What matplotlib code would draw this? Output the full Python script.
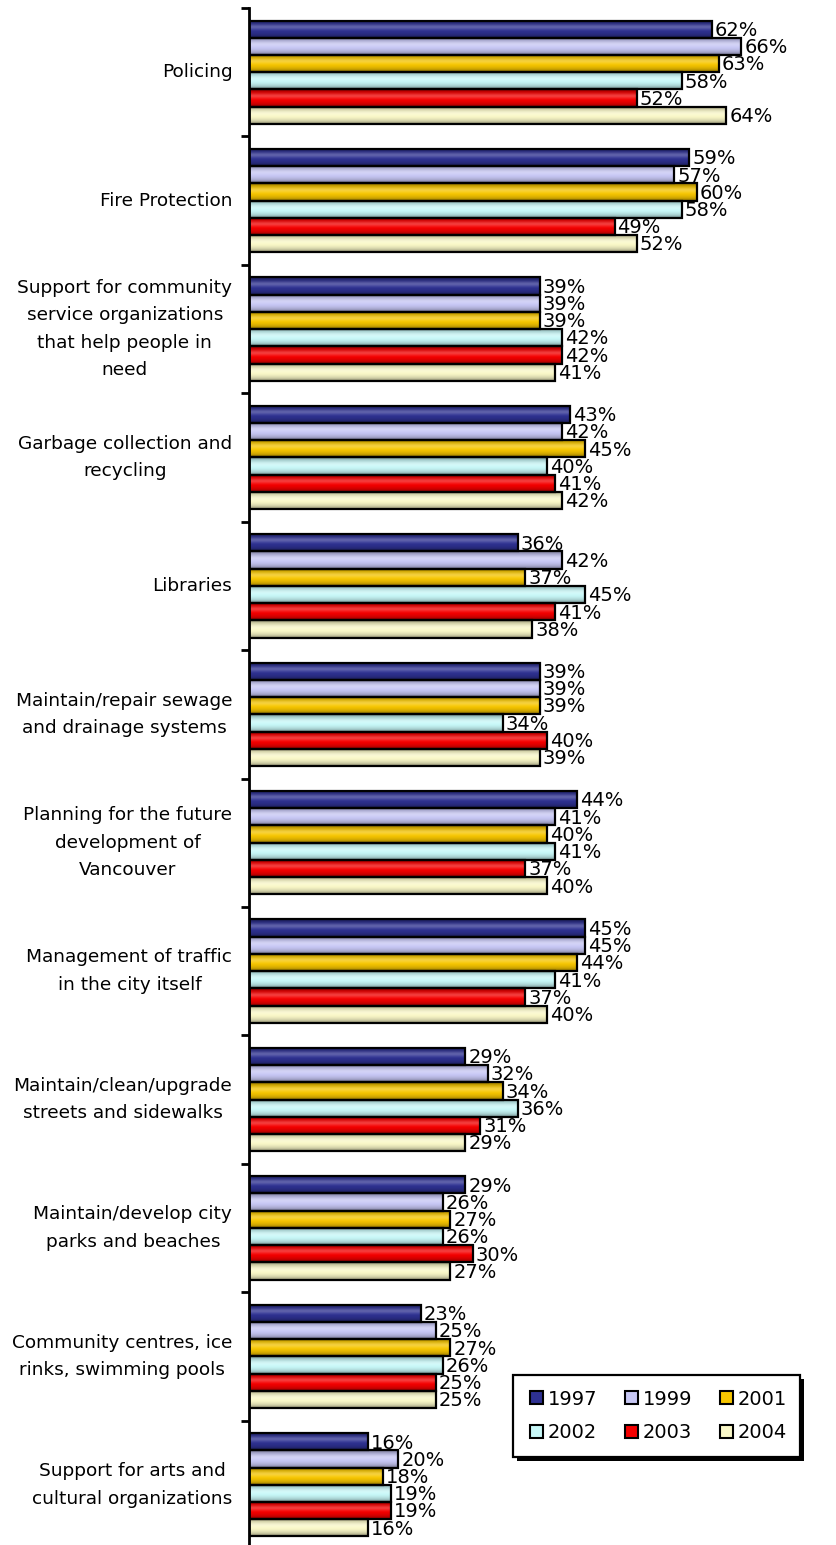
import numpy as np
import matplotlib
matplotlib.use("Agg")
import matplotlib.pyplot as plt
from matplotlib.patches import Patch, Rectangle

plt.rcParams['font.family'] = ['DejaVu Sans']

categories = [
    "Policing",
    "Fire Protection",
    "Support for community\nservice organizations\nthat help people in\nneed",
    "Garbage collection and\nrecycling",
    "Libraries",
    "Maintain/repair sewage\nand drainage systems",
    "Planning for the future\ndevelopment of\nVancouver",
    "Management of traffic\nin the city itself",
    "Maintain/clean/upgrade\nstreets and sidewalks",
    "Maintain/develop city\nparks and beaches",
    "Community centres, ice\nrinks, swimming pools",
    "Support for arts and\ncultural organizations",
]

years = ["1997", "1999", "2001", "2002", "2003", "2004"]

v1997 = [62, 59, 39, 43, 36, 39, 44, 45, 29, 29, 23, 16]
v1999 = [66, 57, 39, 42, 42, 39, 41, 45, 32, 26, 25, 20]
v2001 = [63, 60, 39, 45, 37, 39, 40, 44, 34, 27, 27, 18]
v2002 = [58, 58, 42, 40, 45, 34, 41, 41, 36, 26, 26, 19]
v2003 = [52, 49, 42, 41, 41, 40, 37, 37, 31, 30, 25, 19]
v2004 = [64, 52, 41, 42, 38, 39, 40, 40, 29, 27, 25, 16]

series = [v1997, v1999, v2001, v2002, v2003, v2004]
colors = ["#2E3192", "#C8C8F5", "#F7C600", "#C8F8F8", "#F50000", "#FAF8C8"]

W, H = 836, 1545
fig = plt.figure(figsize=(W / 100, H / 100), dpi=100)
ax_left, ax_top, ax_bottom = 249, 8, 1549
ax = fig.add_axes([ax_left / W, 1 - ax_bottom / H, (W - ax_left) / W, (ax_bottom - ax_top) / H])

n_cat = len(categories)
n_ser = len(series)
group = 0.805
h = group / n_ser
y_base = np.arange(n_cat)

# vertical shading profile for the cylinder-like bars
t = np.linspace(-1, 1, 32)
shade = np.zeros((32, 1, 4))
shade[:, 0, 3] = 0.42 * np.abs(t) ** 2.2
hi = np.ones((32, 1, 4))
hi[:, 0, 3] = np.exp(-((t + 0.25) / 0.3) ** 2) * 0.25

for j, (vals, col) in enumerate(zip(series, colors)):
    ys = y_base + (j - (n_ser - 1) / 2) * h
    bars = ax.barh(ys, vals, height=h, color=col, edgecolor="none", zorder=2)
    for rect, v, y in zip(bars, vals, ys):
        ext = [0, v, y + h / 2, y - h / 2]
        im2 = ax.imshow(hi, extent=ext, aspect="auto", interpolation="bilinear", zorder=2.4)
        im2.set_clip_path(rect)
        im = ax.imshow(shade, extent=ext, aspect="auto", interpolation="bilinear", zorder=2.5)
        im.set_clip_path(rect)
        ax.text(v + 0.4, y + 0.01, f"{v}%", va="center", ha="left", fontsize=14,
                color="black", zorder=4)
    ax.barh(ys, vals, height=h, fill=False, edgecolor="black", linewidth=1.6, zorder=3)

px_per_unit = 7.46
ax.set_xlim(0, (W - ax_left) / px_per_unit)
ax.set_ylim(n_cat - 0.5, -0.5)

for s in ["top", "right", "bottom"]:
    ax.spines[s].set_visible(False)
ax.spines["left"].set_linewidth(2)
ax.xaxis.set_visible(False)

ax.set_yticks(y_base)
ax.set_yticklabels(categories, fontsize=13.3, linespacing=1.68, ha="right",
                   va="center", multialignment="center")
ax.tick_params(axis="y", which="major", length=0, pad=12)
ax.set_yticks(np.arange(n_cat + 1) - 0.5, minor=True)
ax.tick_params(axis="y", which="minor", length=6, width=2, direction="out")

# legend box with drop shadow
bx0, by0, bx1, by1 = 513, 1375, 800, 1457
fig.patches.append(Rectangle((bx0 / W + 4 / W, 1 - (by1 + 4) / H), (bx1 - bx0) / W,
                             (by1 - by0) / H, transform=fig.transFigure,
                             facecolor="black", edgecolor="none", zorder=5))
fig.patches.append(Rectangle((bx0 / W, 1 - by1 / H), (bx1 - bx0) / W, (by1 - by0) / H,
                             transform=fig.transFigure, facecolor="white",
                             edgecolor="black", linewidth=1.6, zorder=6))

order = [0, 3, 1, 4, 2, 5]
handles = [Patch(facecolor=colors[k], edgecolor="black", linewidth=1.5) for k in order]
labels = [years[k] for k in order]
leg = fig.legend(handles, labels, ncol=3, loc="center",
                 bbox_to_anchor=(((bx0 + bx1) / 2 + 2) / W, 1 - (by0 + by1) / 2 / H),
                 bbox_transform=fig.transFigure,
                 fontsize=14, frameon=False,
                 handlelength=0.65, handleheight=0.65, handletextpad=0.25,
                 columnspacing=1.45, labelspacing=0.75, borderpad=0)
leg.set_zorder(7)

fig.savefig("out.png", dpi=100)
